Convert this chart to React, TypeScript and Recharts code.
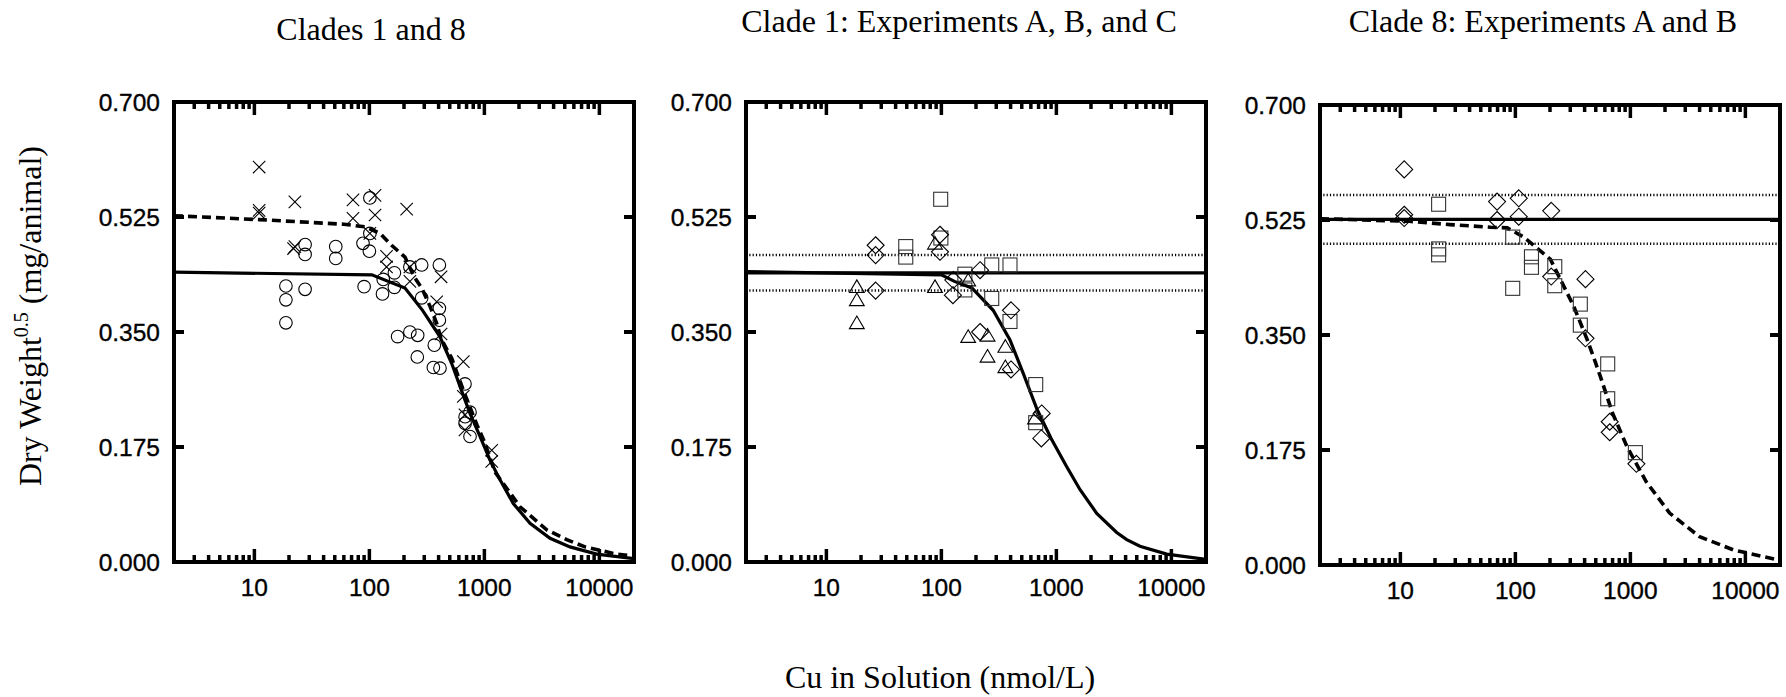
import { ComposedChart, Scatter, Line, XAxis, YAxis, ReferenceLine } from 'recharts'

type Pt = [number, number]

// axis ticks
const xMajorTicks = [10, 100, 1000, 10000]
const xMinorTicks = [3, 4, 5, 6, 7, 8, 9, 20, 30, 40, 50, 60, 70, 80, 90, 200, 300, 400, 500, 600, 700, 800, 900,
  2000, 3000, 4000, 5000, 6000, 7000, 8000, 9000]
const yTicks = [0, 0.175, 0.35, 0.525, 0.7]

// Panel 1: Clades 1 and 8
const p1Circles: Pt[] = [
  [18.8, 0.420], [18.8, 0.399], [18.8, 0.364], [27.6, 0.483], [27.6, 0.468], [27.6, 0.415],
  [51, 0.480], [51, 0.462], [101, 0.554], [101, 0.500], [88, 0.485], [100, 0.473], [90, 0.419],
  [132, 0.430], [130, 0.408], [165, 0.440], [165, 0.418], [225, 0.449], [285, 0.452], [406, 0.452],
  [285, 0.402], [406, 0.386], [406, 0.368], [176, 0.343], [225, 0.350], [263, 0.345], [367, 0.330],
  [261, 0.312], [360, 0.296], [411, 0.295], [678, 0.271], [750, 0.228], [680, 0.221], [680, 0.211],
  [750, 0.191],
]
const p1Crosses: Pt[] = [
  [11, 0.601], [11, 0.531], [11, 0.535], [22.5, 0.548], [21.9, 0.477], [22.5, 0.480], [72, 0.551],
  [72, 0.523], [112, 0.558], [112, 0.528], [211, 0.537], [101, 0.500], [141, 0.465], [141, 0.449],
  [225, 0.449], [225, 0.427], [420, 0.434], [385, 0.396], [420, 0.347], [656, 0.305], [656, 0.252],
  [678, 0.224], [678, 0.201], [1159, 0.170], [1159, 0.153],
]
const p1SolidX = [2, 105, 204, 290, 410, 520, 660, 750, 916, 1119, 1368, 1784, 2494, 3724, 5550, 9460, 20000]
const p1SolidY = [0.441, 0.437, 0.417, 0.383, 0.343, 0.302, 0.252, 0.226, 0.191, 0.155, 0.125, 0.089, 0.059, 0.036, 0.023, 0.012, 0.005]
const p1DashX = [2, 11, 60, 92, 124, 156, 204, 245, 285, 337, 385, 420, 520, 660, 860, 1000, 1236, 2040, 3483, 5200, 7500, 14100, 20000]
const p1DashY = [0.527, 0.521, 0.514, 0.510, 0.500, 0.482, 0.464, 0.434, 0.417, 0.389, 0.363, 0.340, 0.310, 0.260, 0.209, 0.183, 0.137, 0.084, 0.049, 0.034, 0.023, 0.012, 0.009]

// Panel 2: Clade 1, experiments A, B, C
const p2Squares: Pt[] = [
  [98.6, 0.552], [99, 0.493], [49, 0.480], [49, 0.464], [274, 0.452], [395, 0.452], [160, 0.438],
  [160, 0.414], [274, 0.401], [395, 0.366], [661, 0.270], [661, 0.212],
]
const p2Diamonds: Pt[] = [
  [26.8, 0.482], [26.8, 0.467], [26.8, 0.413], [97.3, 0.498], [97.3, 0.472], [217, 0.444], [127, 0.429],
  [126, 0.406], [403, 0.383], [217, 0.350], [403, 0.293], [745, 0.226], [740, 0.188],
]
const p2Triangles: Pt[] = [
  [18.4, 0.419], [18.4, 0.399], [18.4, 0.364], [88, 0.419], [88, 0.485], [171, 0.429], [171, 0.343],
  [252, 0.345], [252, 0.313], [360, 0.328], [360, 0.297], [652, 0.219],
]
const p2SolidX = [2, 100, 130, 184, 282, 395, 515, 680, 900, 1230, 1607, 2244, 3344, 4090, 5333, 9100, 20000]
const p2SolidY = [0.442, 0.437, 0.427, 0.417, 0.383, 0.338, 0.287, 0.232, 0.188, 0.145, 0.110, 0.074, 0.045, 0.034, 0.024, 0.012, 0.004]
const p2Mean = 0.440
const p2Band = [0.467, 0.413]

// Panel 3: Clade 8, experiments A and B
const p3Diamonds: Pt[] = [
  [10.8, 0.602], [10.8, 0.533], [10.8, 0.528], [69.3, 0.553], [69.3, 0.525], [107, 0.558], [107, 0.530],
  [205, 0.539], [407, 0.435], [205, 0.439], [407, 0.345], [661, 0.218], [661, 0.202], [1128, 0.154],
]
const p3Squares: Pt[] = [
  [21.5, 0.549], [21.5, 0.481], [21.5, 0.472], [94.8, 0.499], [94.8, 0.421], [138, 0.469], [138, 0.453],
  [220, 0.454], [220, 0.425], [367, 0.397], [367, 0.365], [635, 0.306], [635, 0.253], [1105, 0.171],
]
const p3DashX = [2, 12, 27, 61, 85, 118, 155, 202, 321, 421, 488, 548, 700, 935, 1370, 2193, 4000, 7870, 18000, 20000]
const p3DashY = [0.527, 0.523, 0.518, 0.514, 0.513, 0.499, 0.482, 0.465, 0.394, 0.343, 0.312, 0.287, 0.231, 0.180, 0.127, 0.079, 0.043, 0.023, 0.009, 0.008]
const p3Mean = 0.526
const p3Band = [0.563, 0.489]

const allXTicks = [...xMajorTicks, ...xMinorTicks].sort((a, b) => a - b)

const PLOT = 460
// axes get 1px each (recharts skips drawing a 0-sized axis)
const M = { top: 12, right: 13, bottom: 48, left: 109 }
const OFF_LEFT = M.left + 1
const OFF_TOP = M.top + 1
const PLOT_RIGHT = OFF_LEFT + PLOT
const PLOT_BOTTOM = OFF_TOP + PLOT

const frameLine = { stroke: '#000', strokeWidth: 4, strokeLinecap: 'square' as const }
const sans = '"Liberation Sans", Arial, sans-serif'
const TICK_W = 3.5
const labelProps = { fontSize: 24.5, fontFamily: sans, fill: '#000', stroke: '#000', strokeWidth: 0.35 }

// ticks point inward on all four sides; majors longer than minors
// eslint-disable-next-line @typescript-eslint/no-explicit-any
const XTick = (p: any) => {
  const v = p.payload.value as number
  const len = xMajorTicks.includes(v) ? 13 : 7
  return (
    <g>
      <line x1={p.x} x2={p.x} y1={PLOT_BOTTOM} y2={PLOT_BOTTOM - len} stroke="#000" strokeWidth={TICK_W} />
      <line x1={p.x} x2={p.x} y1={OFF_TOP} y2={OFF_TOP + len} stroke="#000" strokeWidth={TICK_W} />
      {len === 13 && (
        <text x={p.x} y={PLOT_BOTTOM + 34} textAnchor="middle" {...labelProps}>{v}</text>
      )}
    </g>
  )
}
// eslint-disable-next-line @typescript-eslint/no-explicit-any
const YTick = (p: any) => (
  <g>
    <line x1={OFF_LEFT} x2={OFF_LEFT + 10} y1={p.y} y2={p.y} stroke="#000" strokeWidth={4} />
    <line x1={PLOT_RIGHT} x2={PLOT_RIGHT - 10} y1={p.y} y2={p.y} stroke="#000" strokeWidth={4} />
    <text x={OFF_LEFT - 14} y={p.y} dy="0.36em" textAnchor="end" {...labelProps}>
      {(p.payload.value as number).toFixed(3)}
    </text>
  </g>
)

const toXY = (pts: Pt[]) => pts.map(([x, y]) => ({ x, y }))
const curveXY = (xs: number[], ys: number[]) => xs.map((x, i) => ({ x, y: ys[i] }))

// eslint-disable-next-line @typescript-eslint/no-explicit-any
const circleShape = (p: any) => <circle cx={p.cx} cy={p.cy} r={6.3} fill="none" stroke="#000" strokeWidth={1.1} />
// eslint-disable-next-line @typescript-eslint/no-explicit-any
const crossShape = (p: any) => {
  const s = 6.2
  return <path d={`M${p.cx - s},${p.cy - s}L${p.cx + s},${p.cy + s}M${p.cx - s},${p.cy + s}L${p.cx + s},${p.cy - s}`}
    fill="none" stroke="#000" strokeWidth={1.1} />
}
// eslint-disable-next-line @typescript-eslint/no-explicit-any
const squareShape = (p: any) => <rect x={p.cx - 7} y={p.cy - 7} width={14} height={14} fill="none" stroke="#333" strokeWidth={1.1} />
// eslint-disable-next-line @typescript-eslint/no-explicit-any
const diamondShape = (p: any) => {
  const s = 8.5
  return <path d={`M${p.cx},${p.cy - s}L${p.cx + s},${p.cy}L${p.cx},${p.cy + s}L${p.cx - s},${p.cy}Z`}
    fill="none" stroke="#000" strokeWidth={1.1} />
}
// eslint-disable-next-line @typescript-eslint/no-explicit-any
const triangleShape = (p: any) =>
  <path d={`M${p.cx},${p.cy - 6.8}L${p.cx + 7.4},${p.cy + 5.8}L${p.cx - 7.4},${p.cy + 5.8}Z`}
    fill="none" stroke="#000" strokeWidth={1.1} />

// eslint-disable-next-line @typescript-eslint/no-explicit-any
interface MarkSet { pts: Pt[]; shape: (p: any) => JSX.Element }
interface Curve { xs: number[]; ys: number[]; dashed?: boolean }
interface PanelProps {
  left: number
  top: number
  marks: MarkSet[]
  curves: Curve[]
  mean?: number
  band?: number[]
}

function Panel({ left, top, marks, curves, mean, band }: PanelProps) {
  const xCommon = {
    type: 'number' as const, scale: 'log' as const, domain: [2, 20000], allowDataOverflow: true,
    ticks: allXTicks, interval: 0, height: 1, tickLine: false, axisLine: frameLine, dataKey: 'x',
  }
  const yCommon = {
    type: 'number' as const, domain: [0, 0.7], allowDataOverflow: true, ticks: yTicks, interval: 0, width: 1,
    tickLine: false, axisLine: frameLine, dataKey: 'y',
  }
  return (
    <div style={{ position: 'absolute', left: left - OFF_LEFT, top: top - OFF_TOP }}>
      <ComposedChart width={PLOT + M.left + M.right + 2} height={PLOT + M.top + M.bottom + 2} margin={M}>
        <XAxis xAxisId="x" {...xCommon} tick={XTick} />
        {/* top and right axes only draw the frame */}
        <XAxis xAxisId="xt" orientation="top" {...xCommon} tick={false} />
        <YAxis yAxisId="y" {...yCommon} tick={YTick} />
        <YAxis yAxisId="yr" orientation="right" {...yCommon} tick={false} />

        {band?.map((v, i) => (
          <ReferenceLine key={`b${i}`} xAxisId="x" yAxisId="y" y={v} stroke="#000" strokeWidth={2.5}
            strokeDasharray="1.2 2.1" />
        ))}
        {mean !== undefined && (
          <ReferenceLine xAxisId="x" yAxisId="y" y={mean} stroke="#000" strokeWidth={3.2} />
        )}

        {curves.map((c, i) => (
          <Line key={`c${i}`} xAxisId="x" yAxisId="y" data={curveXY(c.xs, c.ys)} dataKey="y" type="linear"
            stroke="#000" strokeWidth={c.dashed ? 3.6 : 3.2} strokeDasharray={c.dashed ? '9 5' : undefined}
            dot={false} activeDot={false} isAnimationActive={false} />
        ))}

        {marks.map((m, i) => (
          <Scatter key={`m${i}`} xAxisId="x" yAxisId="y" data={toXY(m.pts)} shape={m.shape} isAnimationActive={false} />
        ))}
      </ComposedChart>
    </div>
  )
}

const serif = '"Liberation Serif", "Times New Roman", serif'

export default function App() {
  return (
    <div style={{ position: 'absolute', left: 0, top: 0, width: 1786, height: 697, background: '#fff' }}>
      <svg width={1786} height={697} style={{ position: 'absolute', left: 0, top: 0 }}>
        <g fontFamily={serif} fontSize={32} fill="#000" textAnchor="middle">
          <text x={371} y={40}>Clades 1 and 8</text>
          <text x={959} y={32}>Clade 1: Experiments A, B, and C</text>
          <text x={1543} y={32}>Clade 8: Experiments A and B</text>
          <text x={940} y={688}>Cu in Solution (nmol/L)</text>
          <text transform="translate(41,316) rotate(-90)" x={0} y={0}>
            Dry Weight<tspan fontSize={20} dy={-13}>0.5</tspan><tspan dy={13}> (mg/animal)</tspan>
          </text>
        </g>
      </svg>

      <Panel left={174} top={102}
        marks={[{ pts: p1Circles, shape: circleShape }, { pts: p1Crosses, shape: crossShape }]}
        curves={[{ xs: p1SolidX, ys: p1SolidY }, { xs: p1DashX, ys: p1DashY, dashed: true }]} />
      <Panel left={746} top={102}
        marks={[{ pts: p2Squares, shape: squareShape }, { pts: p2Diamonds, shape: diamondShape },
          { pts: p2Triangles, shape: triangleShape }]}
        curves={[{ xs: p2SolidX, ys: p2SolidY }]} mean={p2Mean} band={p2Band} />
      <Panel left={1320} top={105}
        marks={[{ pts: p3Diamonds, shape: diamondShape }, { pts: p3Squares, shape: squareShape }]}
        curves={[{ xs: p3DashX, ys: p3DashY, dashed: true }]} mean={p3Mean} band={p3Band} />
    </div>
  )
}
